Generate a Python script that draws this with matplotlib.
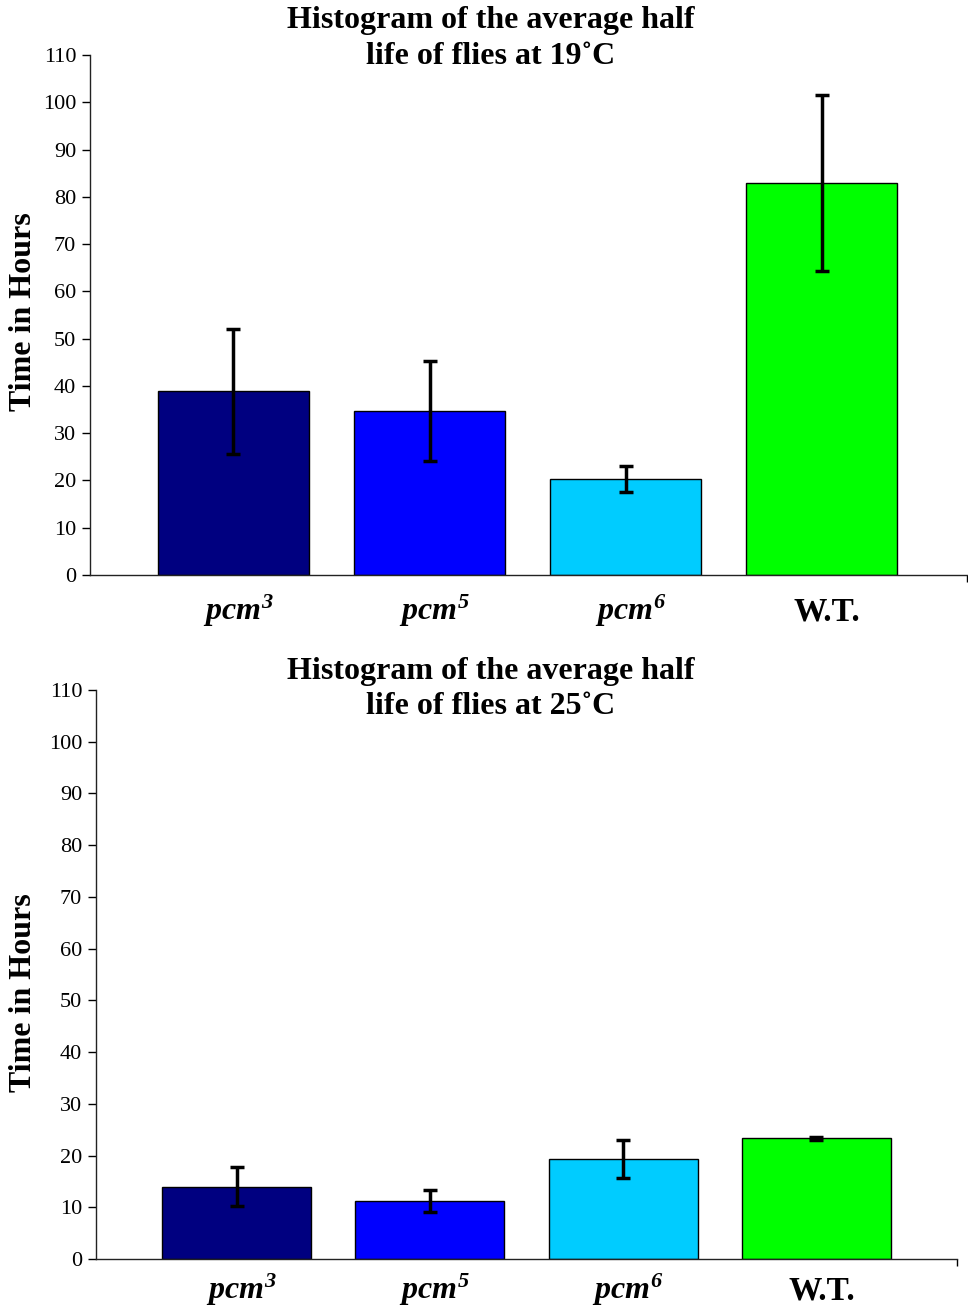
import matplotlib
matplotlib.use("Agg")
import matplotlib.pyplot as plt

categories = ["pcm3", "pcm5", "pcm6", "W.T."]
tick_labels = [r"$pcm^{3}$", r"$pcm^{5}$", r"$pcm^{6}$", "W.T."]
means_19 = [38.9, 34.7, 20.3, 82.9]
errs_19 = [13.2, 10.5, 2.7, 18.6]
means_25 = [14.0, 11.2, 19.4, 23.3]
errs_25 = [3.8, 2.2, 3.7, 0.3]
colors = ["#000080", "#0000FF", "#00CCFF", "#00FF00"]
titles = ["Histogram of the average half\nlife of flies at 19\u02daC",
          "Histogram of the average half\nlife of flies at 25\u02daC"]
yticks = list(range(0, 111, 10))

plt.rcParams["font.family"] = ["Liberation Serif", "DejaVu Serif"]
plt.rcParams["mathtext.fontset"] = "custom"
plt.rcParams["mathtext.it"] = "Liberation Serif:italic:bold"
plt.rcParams["mathtext.rm"] = "Liberation Serif:italic:bold"
plt.rcParams["mathtext.bf"] = "Liberation Serif:italic:bold"

W, H = 968, 1308
fig = plt.figure(figsize=(W / 100, H / 100), dpi=100)

panels = [
    dict(rect=(90, 55, 967, 575), xlim=(-0.732, 3.742), means=means_19, errs=errs_19,
         title=titles[0], title_y=(20, 57), ylab_y=312, lab_off=45),
    dict(rect=(96, 690, 957, 1259), xlim=(-0.727, 3.727), means=means_25, errs=errs_25,
         title=titles[1], title_y=(670, 708), ylab_y=993, lab_off=40),
]

for p in panels:
    x0, y0, x1, y1 = p["rect"]
    ax = fig.add_axes([x0 / W, 1 - y1 / H, (x1 - x0) / W, (y1 - y0) / H])
    xs = list(range(len(categories)))
    ax.bar(xs, p["means"], width=0.77, color=colors, edgecolor="black", linewidth=1.0, zorder=2)
    ax.errorbar(xs, p["means"], yerr=p["errs"], fmt="none", ecolor="black",
                elinewidth=2.5, capsize=5, capthick=2.5, zorder=3)
    ax.set_xlim(*p["xlim"])
    ax.set_ylim(0, 110)
    ax.set_yticks(yticks)
    ax.set_yticklabels([str(t) for t in yticks], fontsize=16)
    ax.set_xticks(xs)
    ax.set_xticklabels([""] * len(xs))
    for x, lab in zip(xs, tick_labels):
        fs = 23 if lab.startswith("$") else 24
        ax.annotate(lab, xy=(x, 0), xycoords=("data", "axes fraction"),
                    xytext=(5, -p["lab_off"]), textcoords="offset pixels",
                    ha="center", va="baseline", fontsize=fs, fontweight="bold",
                    annotation_clip=False)
    ax.tick_params(axis="x", length=0)
    ax.tick_params(axis="y", length=6, width=1, pad=4, direction="out")
    ax.set_xticks([p["xlim"][1]], minor=True)
    ax.tick_params(axis="x", which="minor", length=5, width=1, direction="out")
    for s in ["top", "right"]:
        ax.spines[s].set_visible(False)
    for s in ["left", "bottom"]:
        ax.spines[s].set_linewidth(1.0)
        ax.spines[s].set_color("#222222")
    ty = sum(p["title_y"]) / 2
    fig.text(491 / W, 1 - ty / H, p["title"], ha="center", va="center",
             fontsize=23, fontweight="bold", linespacing=1.3)
    fig.text(24 / W, 1 - p["ylab_y"] / H, "Time in Hours", rotation=90,
             ha="center", va="center", fontsize=23, fontweight="bold")

fig.savefig("out.png", dpi=100)
